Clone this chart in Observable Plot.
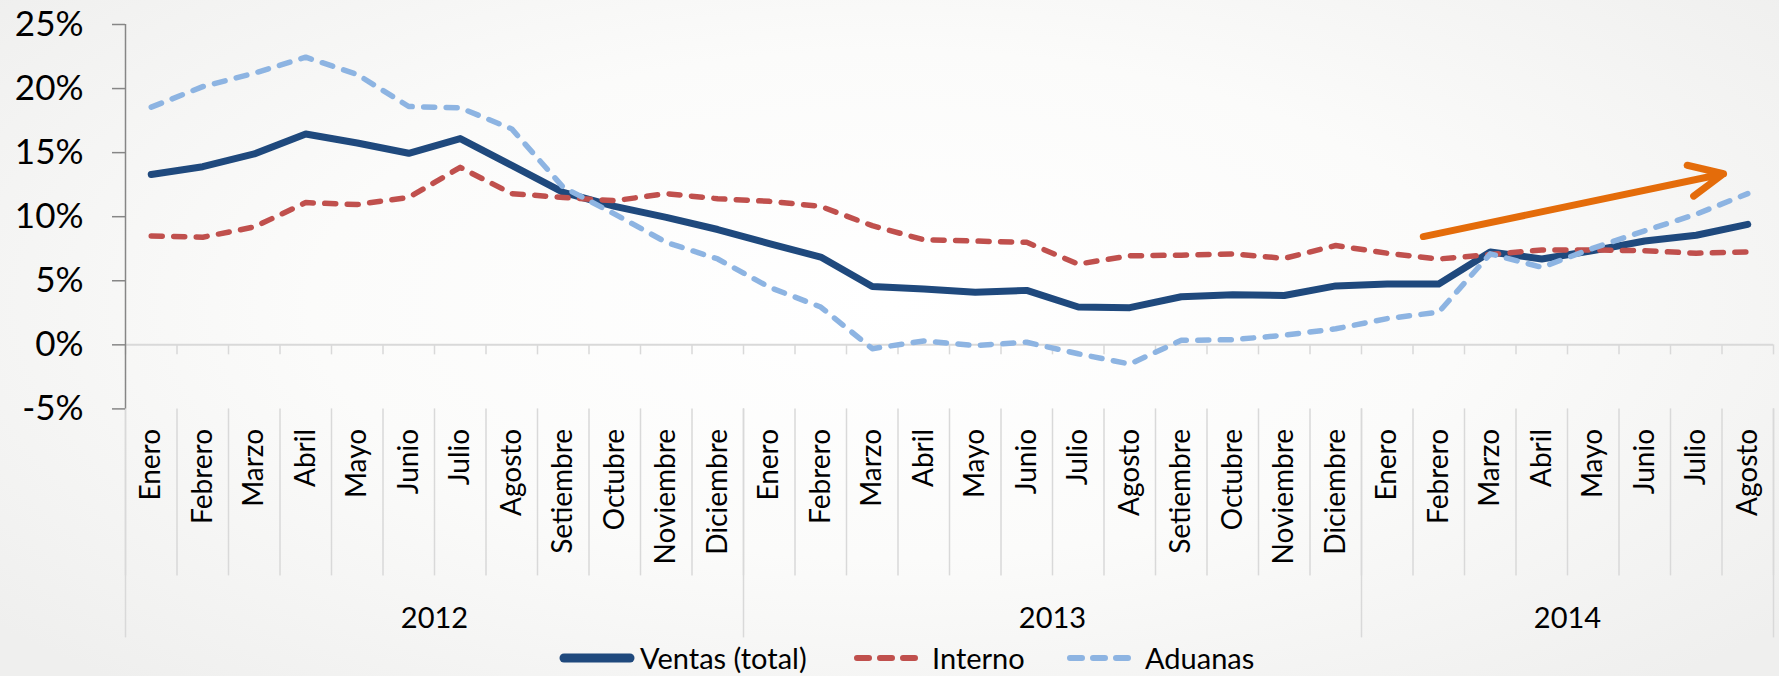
<!DOCTYPE html>
<html>
<head>
<meta charset="utf-8">
<script src="https://cdn.jsdelivr.net/npm/d3@7"></script>
<script src="https://cdn.jsdelivr.net/npm/@observablehq/plot@0.6"></script>
<style>
  html, body { margin: 0; padding: 0; }
  body {
    width: 1779px; height: 676px; overflow: hidden;
    background: radial-gradient(ellipse 65% 75% at 50% 45%, #ffffff 0%, #fbfbfa 50%, #efefee 100%);
    font-family: Lato, sans-serif;
  }
  #chart svg { display: block; }
  #legend { position: relative; height: 36px; width: 1779px; }
  .item { position: absolute; top: 0; height: 36px; display: flex; align-items: center; }
  .item span { font-size: 29px; color: #000; line-height: 36px; margin-left: 4px; }
</style>
</head>
<body>
<div id="chart"></div>
<div id="legend"></div>
<script>
// ---- data ----
const monthNames = ["Enero","Febrero","Marzo","Abril","Mayo","Junio","Julio","Agosto","Setiembre","Octubre","Noviembre","Diciembre"];
const years = ["2012", "2013", "2014"];
const monthsPerYear = [12, 12, 8];

const ventas  = [13.3, 13.9, 14.9, 16.45, 15.75, 14.95, 16.1, 14.0, 11.9, 10.8, 9.95, 9.0,
                 7.9, 6.85, 4.55, 4.35, 4.1, 4.25, 2.95, 2.9, 3.75, 3.9, 3.85, 4.6,
                 4.75, 4.75, 7.25, 6.7, 7.35, 8.1, 8.55, 9.4];
const interno = [8.5, 8.4, 9.2, 11.1, 10.95, 11.5, 13.85, 11.8, 11.5, 11.25, 11.8, 11.4,
                 11.2, 10.8, 9.3, 8.2, 8.1, 8.0, 6.3, 6.95, 7.0, 7.1, 6.75, 7.75,
                 7.15, 6.7, 7.05, 7.4, 7.4, 7.35, 7.15, 7.25];
const aduanas = [18.55, 20.15, 21.2, 22.45, 21.1, 18.6, 18.5, 16.85, 12.3, 10.2, 8.0, 6.7,
                 4.5, 2.95, -0.3, 0.3, -0.05, 0.2, -0.7, -1.5, 0.35, 0.4, 0.75, 1.25,
                 2.05, 2.55, 7.1, 6.05, 7.55, 8.9, 10.2, 11.8];
const yTicks = [-5, 0, 5, 10, 15, 20, 25];
// trend arrow (x in month-index units, y in %)
const trendArrow = [{x1: 24.7, y1: 8.45, x2: 30.53, y2: 13.35}];

const seriesNames = ["Ventas (total)", "Interno", "Aduanas"];
const seriesColors = ["#1F497D", "#C0504D", "#8DB4E2"];

// ---- derived tables ----
const categories = [];
years.forEach((yr, j) => {
  for (let m = 0; m < monthsPerYear[j]; m++) categories.push({year: yr, month: monthNames[m]});
});
const n = categories.length;
const idx = d3.range(n);
const rows = idx.map(i => ({i, ventas: ventas[i], interno: interno[i], aduanas: aduanas[i]}));
const bounds = d3.range(n + 1).map(k => k - 0.5);
const cum = d3.cumsum(monthsPerYear);
const yearBounds = [-0.5, ...Array.from(cum, c => c - 0.5)];
const yearCenters = years.map((yr, j) => ({year: yr, x: (yearBounds[j] + yearBounds[j + 1]) / 2}));

// ---- layout ----
const W = 1779, H = 640, mTop = 24, mBottom = 231.6, mLeft = 125, mRight = 6;
const yMin = -5, yMax = 25;
const pxPerUnit = (H - mTop - mBottom) / (yMax - yMin);
const below = px => yMin - px / pxPerUnit; // value located px pixels below the frame

const chart = Plot.plot({
  width: W, height: H,
  marginTop: mTop, marginBottom: mBottom, marginLeft: mLeft, marginRight: mRight,
  x: {domain: [-0.5, n - 0.5], axis: null},
  y: {domain: [yMin, yMax], axis: null},
  style: {background: "transparent", fontFamily: "Lato, sans-serif", color: "#000", overflow: "visible"},
  marks: [
    // category separators in the label area
    Plot.ruleX(bounds, {x: d => d, y1: yMin, y2: below(167), stroke: "#d9d9d9", strokeWidth: 1.5, clip: false}),
    Plot.ruleX(yearBounds, {x: d => d, y1: yMin, y2: below(229), stroke: "#d9d9d9", strokeWidth: 1.5, clip: false}),
    // category axis at 0 with small ticks
    Plot.ruleY([0], {stroke: "#d9d9d9", strokeWidth: 2}),
    Plot.ruleX(bounds, {x: d => d, y1: 0, y2: -10 / pxPerUnit, stroke: "#d9d9d9", strokeWidth: 1.5}),
    // value axis
    Plot.ruleX([-0.5], {stroke: "#868686", strokeWidth: 1.5}),
    Plot.axisY({ticks: yTicks, tickFormat: d => d + "%", tickSize: 13, tickPadding: 29, fontSize: 35,
                stroke: "#868686", strokeWidth: 1.5, label: null}),
    // month labels
    Plot.text(idx, {x: d => d, text: d => categories[d].month, frameAnchor: "bottom", dy: 20,
                    rotate: -90, textAnchor: "end", lineAnchor: "middle", fontSize: 28, fill: "#000"}),
    // year labels
    Plot.text(yearCenters, {x: "x", text: "year", frameAnchor: "bottom", dy: 210,
                            lineAnchor: "middle", fontSize: 29, fill: "#000"}),
    // series
    Plot.lineY(rows, {x: "i", y: "ventas", stroke: seriesColors[0], strokeWidth: 7,
                      strokeLinecap: "round", strokeLinejoin: "round"}),
    Plot.lineY(rows, {x: "i", y: "interno", stroke: seriesColors[1], strokeWidth: 5.5,
                      strokeDasharray: "11,11.5", strokeLinecap: "round", strokeLinejoin: "round"}),
    Plot.lineY(rows, {x: "i", y: "aduanas", stroke: seriesColors[2], strokeWidth: 5.5,
                      strokeDasharray: "11,11.5", strokeLinecap: "round", strokeLinejoin: "round"}),
    // trend arrow
    Plot.arrow(trendArrow, {x1: "x1", y1: "y1", x2: "x2", y2: "y2", stroke: "#E46C0A",
                            strokeWidth: 7, headAngle: 50, headLength: 8, strokeLinecap: "round"})
  ]
});
document.getElementById("chart").appendChild(chart);

// ---- legend ----
const legend = document.getElementById("legend");
const legendLeft = [556, 850, 1063];
seriesNames.forEach((name, j) => {
  const item = document.createElement("div");
  item.className = "item";
  item.style.left = legendLeft[j] + "px";
  const ns = "http://www.w3.org/2000/svg";
  const sw = document.createElementNS(ns, "svg");
  const w = j === 0 ? 80 : 70;
  sw.setAttribute("width", w); sw.setAttribute("height", 20);
  const ln = document.createElementNS(ns, "line");
  ln.setAttribute("y1", 10); ln.setAttribute("y2", 10);
  ln.setAttribute("stroke", seriesColors[j]);
  ln.setAttribute("stroke-linecap", "round");
  if (j === 0) {
    ln.setAttribute("x1", 8); ln.setAttribute("x2", 74); ln.setAttribute("stroke-width", 9);
  } else {
    ln.setAttribute("x1", 7); ln.setAttribute("x2", 65); ln.setAttribute("stroke-width", 6);
    ln.setAttribute("stroke-dasharray", "12,11");
  }
  sw.appendChild(ln);
  const t = document.createElement("span");
  t.textContent = name;
  if (j > 0) t.style.marginLeft = "12px";
  item.appendChild(sw); item.appendChild(t);
  legend.appendChild(item);
});
</script>
</body>
</html>
